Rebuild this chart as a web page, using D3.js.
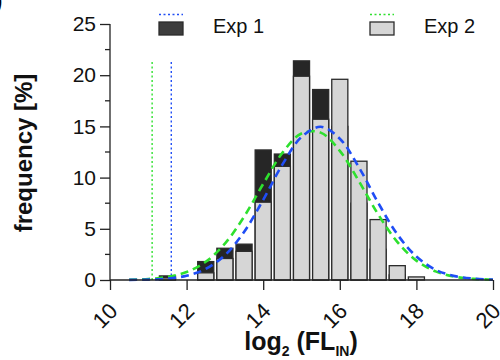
<!DOCTYPE html>
<html>
<head>
<meta charset="utf-8">
<script src="https://cdn.jsdelivr.net/npm/d3@7"></script>
<style>
  body { margin: 0; background: #fff; }
  svg { display: block; font-family: Arial, "Liberation Sans", sans-serif; }
</style>
</head>
<body>
<figure id="hist" style="margin:0"></figure>
<script>
// bin centres (log2 FL) and frequency [%] per experiment
const bins = [11.5, 12.5, 13, 13.5, 14, 14.5, 15, 15.5, 16, 16.5, 17, 17.5, 18];
const exp1 = [0.4, 1.8, 3.1, 3.5, 12.7, 12.3, 21.4, 18.6, 15.0, 7.5, 3.0, 0.5, 0];
const exp2 = [0.2, 0.7, 2.1, 2.8, 7.6, 11.1, 19.9, 15.7, 19.6, 11.6, 5.9, 1.4, 0.3];

// gaussian fit curves
const fitX = [10.5, 11, 11.5, 12, 12.5, 13, 13.5, 14, 14.5, 15, 15.5, 16, 16.5, 17, 17.5, 18, 18.5, 19, 19.5, 20];
const fit1 = [0.01, 0.04, 0.14, 0.42, 1.08, 2.42, 4.69, 7.83, 11.26, 13.97, 14.96, 13.8, 11.0, 7.55, 4.47, 2.29, 1.0, 0.38, 0.13, 0.04];
const fit2 = [0.03, 0.10, 0.30, 0.78, 1.78, 3.55, 6.18, 9.38, 12.41, 14.31, 14.39, 12.61, 9.64, 6.42, 3.73, 1.89, 0.84, 0.32, 0.11, 0.03];

// threshold lines
const cutX = [11.6, 11.1];
const cutTop = 21.3;

const xTicks = [10, 12, 14, 16, 18, 20];
const yTicks = [0, 5, 10, 15, 20, 25];
const yMinor = [2.5, 7.5, 12.5, 17.5, 22.5];
const seriesNames = ["Exp 1", "Exp 2"];

const width = 500, height = 360;
const dark = "#262626", light = "#d6d6d6", edge = "#2b2b2b";
const blue = "#1f4df5", green = "#2ee02e";

const svg = d3.select("figure#hist")
  .append("svg")
  .attr("width", width)
  .attr("height", height);

const x = d3.scaleLinear().domain([10, 20]).range([110, 493]);
const y = d3.scaleLinear().domain([0, 25]).range([280, 24]);
const barW = x(10.42) - x(10);

// bars: exp1 behind, exp2 in front
const bars = svg.append("g");
bars.selectAll("rect.e1")
  .data(bins.map((b, i) => ({ b, v: exp1[i] })).filter(d => d.v > 0))
  .enter()
  .append("rect")
  .attr("x", d => x(d.b) - barW / 2)
  .attr("y", d => y(d.v))
  .attr("width", barW)
  .attr("height", d => y(0) - y(d.v))
  .style("fill", dark)
  .style("stroke", edge)
  .style("stroke-width", 1.3);

bars.selectAll("rect.e2")
  .data(bins.map((b, i) => ({ b, v: exp2[i] })))
  .enter()
  .append("rect")
  .attr("x", d => x(d.b) - barW / 2)
  .attr("y", d => y(d.v))
  .attr("width", barW)
  .attr("height", d => y(0) - y(d.v))
  .style("fill", light)
  .style("stroke", edge)
  .style("stroke-width", 1.3);

// dotted threshold lines
svg.append("g").selectAll("line")
  .data(cutX)
  .enter()
  .append("line")
  .attr("x1", d => x(d)).attr("x2", d => x(d))
  .attr("y1", y(0)).attr("y2", y(cutTop))
  .style("stroke", (d, i) => i === 0 ? blue : green)
  .style("stroke-width", 1.4)
  .style("stroke-dasharray", "2,2.5");

// fit curves
const line = d3.line()
  .x(d => x(d[0]))
  .y(d => y(d[1]))
  .curve(d3.curveCatmullRom);

svg.append("path")
  .attr("d", line(fitX.map((v, i) => [v, fit2[i]])))
  .style("fill", "none")
  .style("stroke", green)
  .style("stroke-width", 2.6)
  .style("stroke-dasharray", "8,5");

svg.append("path")
  .attr("d", line(fitX.map((v, i) => [v, fit1[i]])))
  .style("fill", "none")
  .style("stroke", blue)
  .style("stroke-width", 2.6)
  .style("stroke-dasharray", "8,5");

// axes
const axisColor = "#222";
const yAxis = svg.append("g").attr("transform", "translate(110,0)")
  .call(d3.axisLeft(y).tickValues(yTicks).tickSize(10).tickPadding(4));
yAxis.selectAll(".tick line").attr("stroke", axisColor).attr("stroke-width", 1.3);
yAxis.select(".domain").attr("d", `M0,${y(25)}V${y(0)}`).attr("stroke", axisColor).attr("stroke-width", 1.3);
yAxis.selectAll("text").style("font-size", "21px").attr("fill", "#111");

svg.append("g").selectAll("line")
  .data(yMinor)
  .enter()
  .append("line")
  .attr("x1", 105).attr("x2", 110)
  .attr("y1", d => y(d)).attr("y2", d => y(d))
  .style("stroke", axisColor)
  .style("stroke-width", 1.3);

const xAxis = svg.append("g").attr("transform", "translate(0,280)")
  .call(d3.axisBottom(x).tickValues(xTicks).tickSize(10).tickFormat(d3.format("d")));
xAxis.selectAll(".tick line").attr("stroke", axisColor).attr("stroke-width", 1.3);
xAxis.select(".domain").attr("d", `M${x(10)},0H${x(20)}`).attr("stroke", axisColor).attr("stroke-width", 1.3);
xAxis.selectAll("text")
  .style("font-size", "22px")
  .attr("fill", "#111")
  .attr("text-anchor", "end")
  .attr("y", 0).attr("dy", "0.35em")
  .attr("transform", "translate(3,27) rotate(-45)");

// axis titles
svg.append("text")
  .attr("transform", "translate(32,153) rotate(-90)")
  .attr("text-anchor", "middle")
  .style("font-size", "24px")
  .style("font-weight", "bold")
  .attr("fill", "#111")
  .text("frequency [%]");

const xt = svg.append("text")
  .attr("x", 301).attr("y", 350)
  .attr("text-anchor", "middle")
  .style("font-size", "25px")
  .style("font-weight", "bold")
  .attr("fill", "#111");
xt.append("tspan").text("log");
xt.append("tspan").attr("dy", 6).style("font-size", "14px").text("2");
xt.append("tspan").attr("dy", -6).text(" (FL");
xt.append("tspan").attr("dy", 6).style("font-size", "14px").text("IN");
xt.append("tspan").attr("dy", -6).text(")");

// legend
const legX = [159, 370];
const leg = svg.append("g");
seriesNames.forEach((name, i) => {
  leg.append("line")
    .attr("x1", legX[i]).attr("x2", legX[i] + 24)
    .attr("y1", 14.5).attr("y2", 14.5)
    .style("stroke", i === 0 ? blue : green)
    .style("stroke-width", 1.4)
    .style("stroke-dasharray", "2,2.5");
  leg.append("rect")
    .attr("x", legX[i]).attr("y", 22)
    .attr("width", 24).attr("height", 13)
    .style("fill", i === 0 ? "#3d3d3d" : light)
    .style("stroke", edge)
    .style("stroke-width", 1.3);
  leg.append("text")
    .attr("x", legX[i] + 54).attr("y", 33)
    .style("font-size", "20px")
    .attr("fill", "#111")
    .text(name);
});

// cut-off panel label
svg.append("text")
  .attr("x", -5).attr("y", 8)
  .style("font-size", "22px")
  .style("font-weight", "bold")
  .text(")");
</script>
</body>
</html>
